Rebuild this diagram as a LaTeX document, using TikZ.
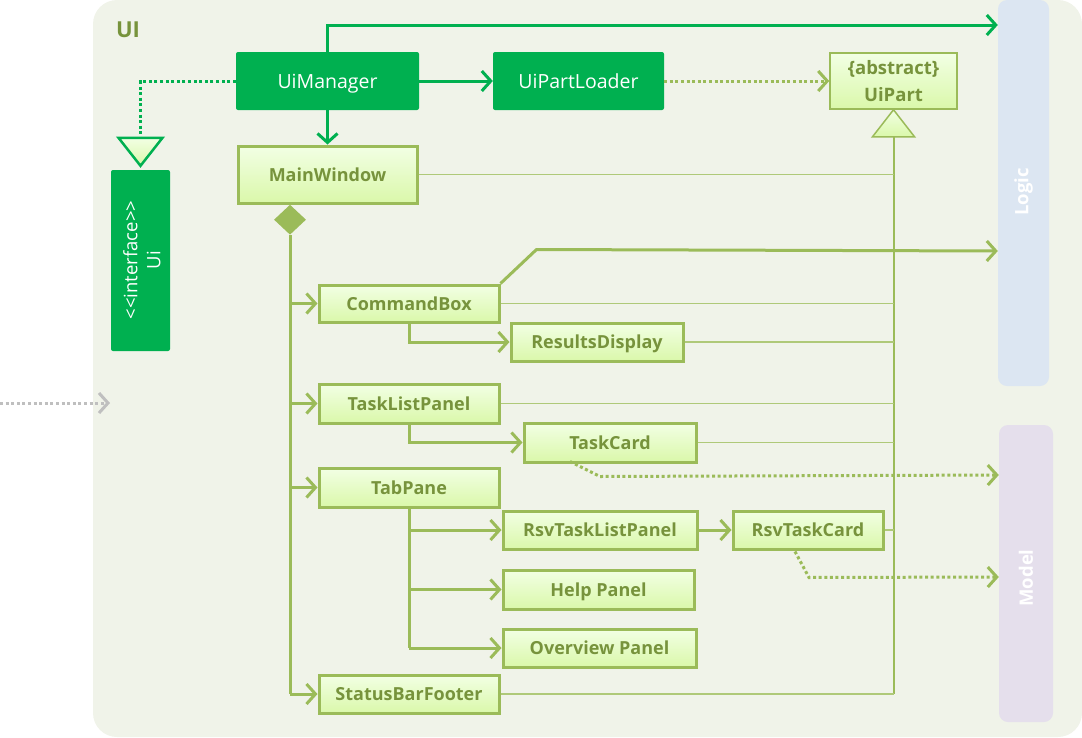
\documentclass[tikz,border=0pt]{standalone}
\usepackage{fontspec}
\setmainfont{Open Sans}
\usetikzlibrary{arrows.meta,shapes.geometric,calc}

\definecolor{pkgbg}{HTML}{F0F3E9}
\definecolor{uigreen}{HTML}{00B050}
\definecolor{olive}{HTML}{9BBB59}
\definecolor{olivetext}{HTML}{77933C}
\definecolor{thinline}{HTML}{AFC979}
\definecolor{logicbg}{HTML}{DCE6F2}
\definecolor{modelbg}{HTML}{E5DFEC}
\definecolor{boxtop}{HTML}{F2FFE4}
\definecolor{boxbottom}{HTML}{DAF8AA}
\definecolor{extgray}{HTML}{BFBFBF}

\tikzset{
  x=1pt, y=-1pt,
  darkbox/.style={fill=uigreen, rounded corners=2pt, text=white, inner sep=0pt,
    text height=18pt, text depth=4pt,
    font=\fontsize{19.5}{22}\selectfont},
  classbox/.style={draw=olive, line width=3pt, top color=boxtop, bottom color=boxbottom,
    text=olivetext, inner sep=0pt, text height=17pt, text depth=4pt,
    font=\fontsize{18}{21}\bfseries\selectfont},
  layerbox/.style={rounded corners=9pt, inner sep=0pt, text=white,
    font=\fontsize{18}{21}\bfseries\selectfont},
  barb/.style={-{Straight Barb[length=9pt,width=20pt,line width=3pt]}},
  greenarrow/.style={barb, draw=uigreen, line width=3pt},
  olivearrow/.style={barb, draw=olive, line width=3pt},
  thinconn/.style={draw=thinline, line width=1.6pt},
  dotconn/.style={line width=3pt, dash pattern=on 3pt off 2.6pt},
}

\begin{document}
\begin{tikzpicture}
\useasboundingbox (0,0) rectangle (1082,737);

% UI package background and title
\fill[pkgbg, rounded corners=24pt] (93,0) rectangle (1082,737);
\node[text=olivetext, font=\fontsize{22}{24}\bfseries\selectfont] (uititle) at (128,30) {UI};

% neighbouring layers
\node[layerbox, fill=logicbg, minimum width=51pt, minimum height=386pt] (logic) at (1023.5,193) {};
\node[rotate=90, text=white, font=\fontsize{18.5}{21}\bfseries\selectfont] (logiclabel) at (1023.5,192) {Logic};
\node[layerbox, fill=modelbg, minimum width=54pt, minimum height=297pt] (model) at (1026,573.5) {};
\node[rotate=90, text=white, font=\fontsize{18.5}{21}\bfseries\selectfont] (modellabel) at (1026,578) {Model};

% manager classes
\node[darkbox, minimum width=183pt, minimum height=58pt] (uimgr) at (327.5,81) {UiManager};
\node[darkbox, minimum width=171pt, minimum height=58pt] (loader) at (578.5,81) {UiPartLoader};
\node[draw=olive, line width=1.5pt, top color=boxtop, bottom color=boxbottom, text=olivetext,
      inner sep=0pt, minimum width=127pt, minimum height=56pt, align=center,
      font=\fontsize{18.5}{27}\bfseries\selectfont] (uipart) at (893.5,81) {\{abstract\}\\UiPart};

% Ui interface
\node[darkbox, minimum width=59pt, minimum height=181pt] (ui) at (140.5,260.5) {};
\node[rotate=90, text=white, align=center, font=\fontsize{18.5}{23}\selectfont] (uilabel) at (142,260) {<{}<interface>{}>\\Ui};

% UI parts
\node[classbox, minimum width=179pt, minimum height=57pt] (mainwin) at (327.5,174.5) {MainWindow};
\node[classbox, minimum width=180pt, minimum height=37pt] (cmdbox) at (409,303.5) {CommandBox};
\node[classbox, minimum width=172pt, minimum height=38pt] (results) at (597,342) {ResultsDisplay};
\node[classbox, minimum width=180pt, minimum height=39pt] (tasklist) at (409,403.5) {TaskListPanel};
\node[classbox, minimum width=172pt, minimum height=39pt] (taskcard) at (610,442.5) {TaskCard};
\node[classbox, minimum width=180pt, minimum height=39pt] (tabpane) at (409,487.5) {TabPane};
\node[classbox, minimum width=194pt, minimum height=38pt] (rsvlist) at (600,530) {RsvTaskListPanel};
\node[classbox, minimum width=150pt, minimum height=38pt] (rsvcard) at (808,530) {RsvTaskCard};
\node[classbox, minimum width=191pt, minimum height=39pt] (help) at (598.5,589.5) {Help Panel};
\node[classbox, minimum width=193pt, minimum height=38pt] (overview) at (599.5,648) {Overview Panel};
\node[classbox, minimum width=180pt, minimum height=38pt] (status) at (409,694) {StatusBarFooter};

% composition diamond under MainWindow
\node[diamond, fill=olive, inner sep=0pt, minimum width=32pt, minimum height=30pt,
      anchor=north] (comp) at ($(mainwin.south)+(-37.5,0)$) {};

% realisation triangle above Ui
\draw[uigreen, line width=2.5pt, top color=boxtop, bottom color=boxbottom]
  ($(ui.north)+(0,-4)$) coordinate (uitip) -- ++(-22,-28) -- ++(44,0) -- cycle;
\coordinate (uibase) at ($(uitip)+(0,-28)$);

% generalisation triangle under UiPart
\draw[olive, line width=1.5pt, top color=boxtop, bottom color=boxbottom]
  (uipart.south) -- ++(21,27) -- ++(-42,0) -- cycle;
\coordinate (partbase) at ($(uipart.south)+(0,27)$);

% inheritance lines into UiPart
\draw[thinconn, draw=olive, line width=2pt] (partbase) -- (partbase |- status.east);
\foreach \n in {mainwin,cmdbox,results,tasklist,taskcard,rsvcard,status}
  \draw[thinconn] (\n.east) -- (\n.east -| partbase);

% UiManager associations
\draw[dotconn, draw=uigreen] (uimgr.west) -| (uibase);
\draw[greenarrow] (uimgr.north) -- (uimgr.north |- 0,25) -- (logic.west |- 0,25);
\draw[greenarrow] (uimgr.east) -- (loader.west);
\draw[greenarrow] (uimgr.south) -- (mainwin.north);
\draw[dotconn, draw=olive, barb] (loader.east) -- (uipart.west);

% MainWindow composition spine
\draw[olive, line width=3pt] (comp.south) -- (comp.south |- status.west);
\foreach \n in {cmdbox,tasklist,tabpane,status}
  \draw[olivearrow] (comp.south |- \n.west) -- (\n.west);

% nested parts
\draw[olivearrow] (cmdbox.south) |- (results.west);
\draw[olivearrow] (tasklist.south) |- (taskcard.west);
\draw[olive, line width=3pt] (tabpane.south) -- (tabpane.south |- overview.west);
\foreach \n in {rsvlist,help,overview}
  \draw[olivearrow] (tabpane.south |- \n.west) -- (\n.west);
\draw[olivearrow] (rsvlist.east) -- (rsvcard.west);

% dependencies on Logic and Model
\draw[olivearrow, line join=round] (cmdbox.north east) -- ++(36,-34) -- (logic.west |- 0,251);
\draw[dotconn, draw=olive, barb] ($(taskcard.south)+(-40,-2)$) -- ++(30,15) -- (model.west |- 0,475);
\draw[dotconn, draw=olive, barb] ($(rsvcard.south)+(-13,1)$) -- ++(14,26) -- (model.west |- 0,577);

% incoming dependency from outside the UI
\coordinate (outside) at (0,403);
\coordinate (uientry) at (110,403);
\draw[dotconn, draw=extgray, barb] (outside) -- (uientry);
\end{tikzpicture}
\end{document}
